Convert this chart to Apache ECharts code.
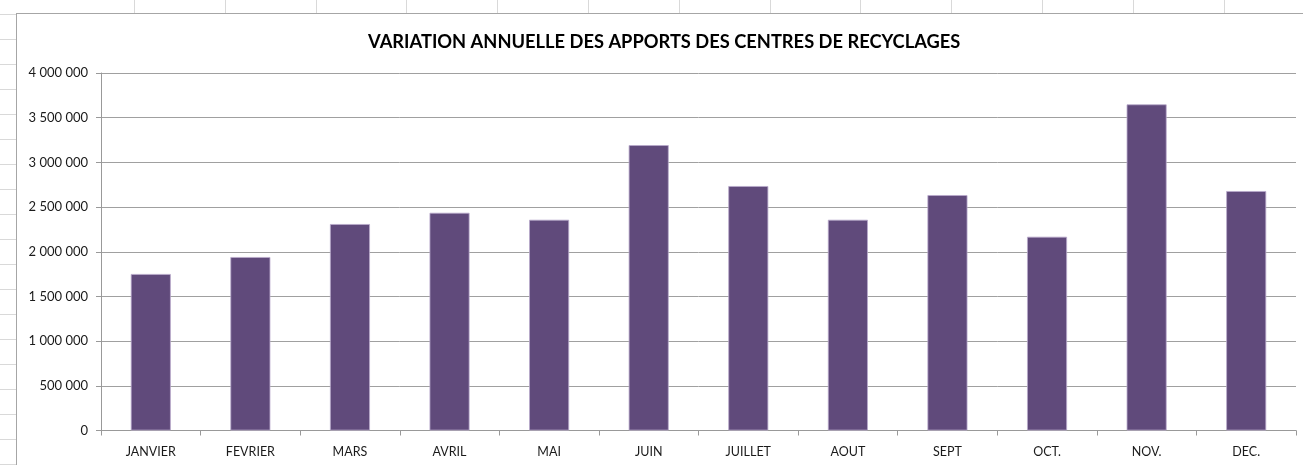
<!DOCTYPE html>
<html>
<head>
<meta charset="utf-8">
<script src="https://cdn.jsdelivr.net/npm/echarts@6/dist/echarts.min.js"></script>
<style>
  html, body { margin: 0; padding: 0; width: 1303px; height: 465px; overflow: hidden; background: #ffffff; position: relative; }
  .hl { position: absolute; left: 0; width: 16px; height: 1px; background: #d9d9d9; }
  .vl { position: absolute; top: 0; height: 13px; width: 1px; background: #d9d9d9; }
  #frame { position: absolute; left: 16px; top: 13px; width: 1287px; height: 452px; background: #fff;
           border-left: 1px solid #a6a6a6; border-top: 1px solid #a6a6a6; box-sizing: border-box; }
  #chart { width: 100%; height: 100%; }
</style>
</head>
<body>
<div id="frame"><div id="chart"></div></div>
<script>
const categories = ["JANVIER", "FEVRIER", "MARS", "AVRIL", "MAI", "JUIN", "JUILLET", "AOUT", "SEPT", "OCT.", "NOV.", "DEC."];
const apports = [1751000, 1941000, 2310000, 2436000, 2358000, 3193000, 2735000, 2358000, 2634000, 2168000, 3649000, 2679000];
const yMin = 0;
const yMax = 4000000;
const yStep = 500000;
const titleText = "VARIATION ANNUELLE DES APPORTS DES CENTRES DE RECYCLAGES";

// spreadsheet background lines
for (let y = 14; y < 465; y += 25) {
  const d = document.createElement('div'); d.className = 'hl'; d.style.top = y + 'px'; document.body.appendChild(d);
}
for (let i = 0; i < 14; i++) {
  const x = Math.round(134 + i * 90.8);
  const d = document.createElement('div'); d.className = 'vl'; d.style.left = x + 'px'; document.body.appendChild(d);
}

function fmt(v) {
  return String(v).replace(/\B(?=(\d{3})+(?!\d))/g, ' ');
}

const chart = echarts.init(document.getElementById('chart'), null, { renderer: 'canvas' });
chart.setOption({
  animation: false,
  backgroundColor: '#ffffff',
  textStyle: { fontFamily: 'Lato' },
  title: {
    text: titleText,
    left: 351,
    top: 19,
    padding: 0,
    textStyle: { fontFamily: 'Lato', fontWeight: 'bold', fontSize: 18.3, color: '#000000' }
  },
  grid: { left: 84, right: 7, top: 59, bottom: 34.5, containLabel: false },
  xAxis: {
    type: 'category',
    data: categories,
    axisLine: { lineStyle: { color: '#999999', width: 1 } },
    axisTick: { show: true, alignWithLabel: false, length: 5, lineStyle: { color: '#999999' } },
    axisLabel: { color: '#1a1a1a', fontSize: 12.5, fontFamily: 'Lato', margin: 15 },
    splitLine: { show: false }
  },
  yAxis: {
    type: 'value',
    min: yMin,
    max: yMax,
    interval: yStep,
    axisLine: { show: true, lineStyle: { color: '#999999', width: 1 } },
    axisTick: { show: true, length: 5, lineStyle: { color: '#999999' } },
    axisLabel: { color: '#1a1a1a', fontSize: 13, fontFamily: 'Lato', margin: 13, formatter: fmt },
    splitLine: { show: true, lineStyle: { color: '#a0a0a0', width: 1 } }
  },
  series: [{
    type: 'bar',
    data: apports,
    barWidth: 40,
    itemStyle: { color: '#604a7b', borderColor: '#b9a9cc', borderWidth: 0.8 }
  }]
});
</script>
</body>
</html>
